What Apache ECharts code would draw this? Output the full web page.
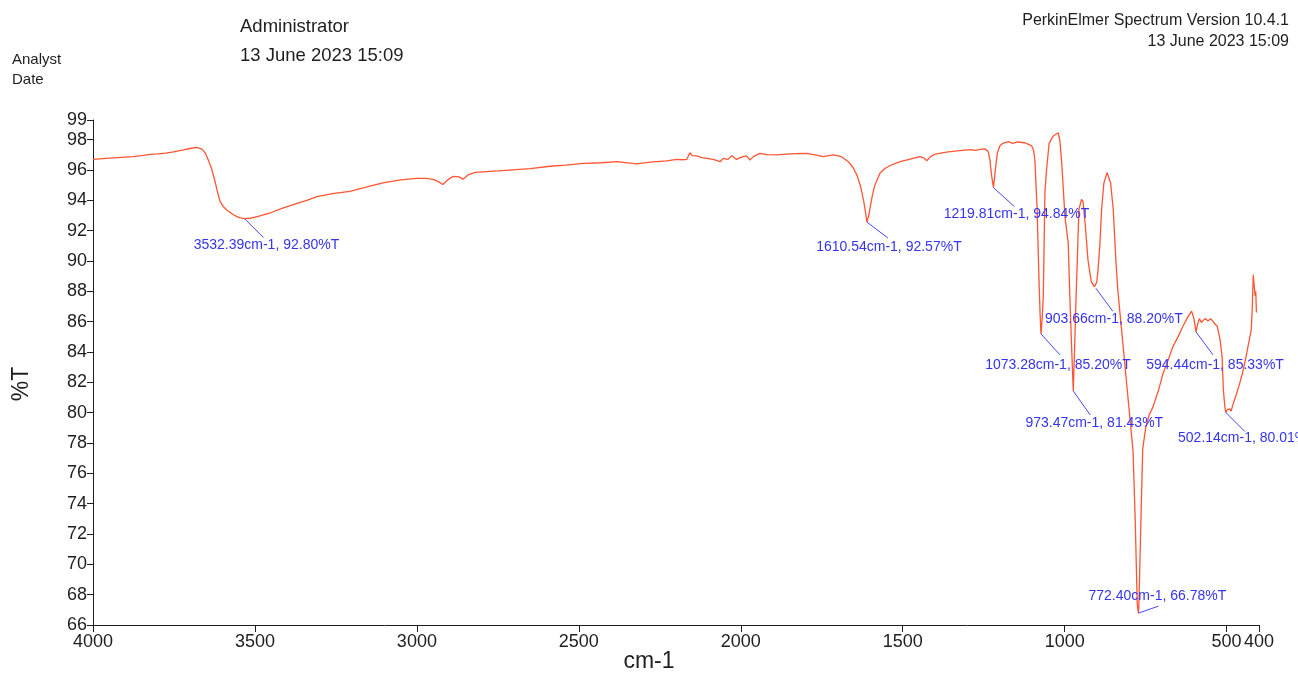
<!DOCTYPE html>
<html>
<head>
<meta charset="utf-8">
<title>FT-IR spectrum</title>
<script src="https://cdn.jsdelivr.net/npm/echarts@6/dist/echarts.min.js"></script>
<style>
  html, body { margin: 0; padding: 0; background: #ffffff; }
  #chart { width: 1298px; height: 673px; }
</style>
</head>
<body>
<div id="chart"></div>
<script>
// Spectrum: wavenumber (cm-1) and transmittance (%T), high to low wavenumber
const wavenumbers = [
  4000, 3950, 3900, 3876, 3850, 3824, 3800, 3775, 3752, 3720, 3700, 3680, 3664, 3654, 3644, 3634,
  3623, 3615, 3608, 3598, 3587, 3570, 3556, 3545, 3532.39, 3515, 3490, 3450, 3412, 3370, 3340, 3309,
  3260, 3207, 3160, 3105, 3050, 3001, 2970, 2950, 2935, 2920, 2905, 2889, 2870, 2858, 2852, 2840,
  2820, 2750, 2650, 2589, 2540, 2486, 2430, 2383, 2321, 2280, 2229, 2198, 2180, 2167, 2157, 2150,
  2136, 2120, 2105, 2085, 2064, 2054, 2040, 2028, 2013, 1998, 1982, 1972, 1960, 1941, 1920, 1889,
  1860, 1830, 1797, 1770, 1745, 1714, 1689, 1668, 1653, 1640, 1630, 1620, 1614, 1610.54, 1605, 1600,
  1593, 1586, 1570, 1555, 1539, 1508, 1480, 1447, 1435, 1425, 1415, 1400, 1360, 1323, 1290, 1277,
  1260, 1246, 1236, 1231, 1226, 1219.81, 1214, 1208, 1200, 1191, 1174, 1161, 1145, 1123, 1110, 1102,
  1096, 1092, 1085, 1079, 1076, 1073.28, 1070, 1066, 1061, 1056, 1048, 1035, 1020, 1015, 1009, 999,
  989, 984, 978, 973.47, 969, 965, 961, 956, 948, 943, 936, 928, 918, 908, 903.66, 901,
  897, 891, 886, 879, 869, 864, 858, 850, 842, 836, 820, 805, 789, 782, 776, 772.40,
  771, 765, 759, 750, 740, 727, 710, 696, 680, 666, 650, 635, 620, 608, 601, 594.44,
  590, 584, 578, 572, 565, 558, 549, 540, 529, 520, 514, 510, 505, 502.14, 498, 494,
  490, 486, 481, 470, 460, 450, 440, 430, 424, 421, 419, 417.5, 415, 412, 410, 408
];
const transmittance = [
  96.70, 96.78, 96.85, 96.88, 96.95, 97.03, 97.06, 97.12, 97.20, 97.33, 97.42, 97.50, 97.38, 97.15, 96.66, 96.10,
  95.23, 94.50, 93.95, 93.60, 93.37, 93.10, 92.93, 92.85, 92.80, 92.82, 92.95, 93.20, 93.50, 93.80, 94.00, 94.25,
  94.45, 94.60, 94.85, 95.15, 95.35, 95.45, 95.45, 95.38, 95.25, 95.05, 95.35, 95.58, 95.55, 95.40, 95.30, 95.70,
  95.85, 95.95, 96.10, 96.25, 96.32, 96.44, 96.48, 96.55, 96.40, 96.52, 96.60, 96.70, 96.68, 96.70, 97.14, 96.95,
  96.93, 96.82, 96.77, 96.70, 96.55, 96.77, 96.70, 96.95, 96.70, 96.85, 96.93, 96.66, 96.90, 97.10, 97.02, 97.00,
  97.05, 97.08, 97.10, 97.00, 96.88, 97.00, 96.88, 96.55, 96.15, 95.60, 94.90, 93.90, 93.10, 92.57, 93.00, 93.60,
  94.40, 95.00, 95.80, 96.10, 96.30, 96.55, 96.70, 96.88, 96.80, 96.62, 96.88, 97.05, 97.20, 97.28, 97.35, 97.30,
  97.36, 97.40, 97.20, 96.70, 95.70, 94.84, 96.00, 97.10, 97.60, 97.76, 97.87, 97.76, 97.85, 97.80, 97.68, 97.60,
  97.30, 96.66, 93.40, 88.55, 86.60, 85.20, 86.00, 87.65, 94.50, 96.00, 97.76, 98.25, 98.46, 97.98, 96.44, 92.90,
  91.17, 87.65, 84.00, 81.43, 84.50, 87.50, 90.07, 93.40, 94.07, 93.90, 92.26, 90.07, 88.64, 88.30, 88.20, 88.60,
  89.40, 91.17, 93.40, 95.13, 95.83, 95.70, 95.13, 93.40, 90.07, 88.10, 84.50, 81.10, 77.50, 72.80, 67.40, 66.78,
  67.20, 72.50, 77.60, 79.00, 79.80, 80.40, 81.50, 82.60, 83.50, 84.35, 85.00, 85.70, 86.30, 86.70, 86.20, 85.33,
  85.80, 86.20, 85.95, 86.10, 86.20, 86.05, 86.20, 85.95, 85.70, 84.80, 83.70, 81.50, 80.30, 80.01, 80.20, 80.10,
  80.25, 80.10, 80.50, 81.20, 81.90, 82.70, 83.70, 84.80, 85.45, 86.80, 88.20, 89.10, 88.40, 87.70, 88.00, 86.60
];

// Peak-picked bands
const peakWavenumbers = [3532.39, 1610.54, 1219.81, 1073.28, 973.47, 903.66, 772.40, 594.44, 502.14];
const peakTransmittance = [92.80, 92.57, 94.84, 85.20, 81.43, 88.20, 66.78, 85.33, 80.01];

// Axis ticks
const xTickValues = [4000, 3500, 3000, 2500, 2000, 1500, 1000, 500, 400];
const yTickValues = [66, 68, 70, 72, 74, 76, 78, 80, 82, 84, 86, 88, 90, 92, 94, 96, 98, 99.3];

// Header text
const analystName = 'Administrator';
const acquiredDate = '13 June 2023 15:09';
const softwareName = 'PerkinElmer Spectrum Version 10.4.1';
const printedDate = '13 June 2023 15:09';

// Leader line end and label centre, in pixels from each peak: [lineDx, lineDy, textDx, textDy]
const leaderLayout = [
  [19, 19, 22, 27],
  [21, 16, 22, 25],
  [21, 19, 23, 27],
  [19, 21, 17, 31],
  [17, 24, 21, 32],
  [17, 23, 18, 31],
  [20, -7, 19, -17],
  [17, 23, 19, 33],
  [19, 19, 21, 26]
];

const FONT = '"Liberation Sans", Arial, Helvetica, sans-serif';
const INK = '#1e1e1e';
const TRACE = '#ff5533';
const MARK = '#3434f0';

const spectrum = wavenumbers.map((w, i) => [w, transmittance[i]]);
const peaks = peakWavenumbers.map((w, i) => [w, peakTransmittance[i]]);

const chart = echarts.init(document.getElementById('chart'), null, { renderer: 'canvas' });

chart.setOption({
  animation: false,
  backgroundColor: '#ffffff',
  grid: { left: 93, right: 39, top: 120, bottom: 48, containLabel: false },
  xAxis: {
    type: 'value',
    inverse: true,
    min: 400,
    max: 4000,
    axisLine: { show: true, onZero: false, lineStyle: { color: INK, width: 1 } },
    axisTick: { show: true, length: 7, customValues: xTickValues, lineStyle: { color: INK, width: 1 } },
    axisLabel: {
      customValues: xTickValues,
      formatter: v => String(Math.round(v)),
      color: INK, fontFamily: FONT, fontSize: 18, margin: 8,
      hideOverlap: false, showMinLabel: true, showMaxLabel: true
    },
    splitLine: { show: false }
  },
  yAxis: {
    type: 'value',
    min: 66,
    max: 99.3,
    axisLine: { show: true, onZero: false, lineStyle: { color: INK, width: 1 } },
    axisTick: { show: true, length: 6, customValues: yTickValues, lineStyle: { color: INK, width: 1 } },
    axisLabel: {
      customValues: yTickValues,
      formatter: v => String(Math.round(v)),
      color: INK, fontFamily: FONT, fontSize: 18, margin: 6,
      hideOverlap: false, showMinLabel: true, showMaxLabel: true
    },
    splitLine: { show: false }
  },
  series: [
    {
      name: 'Spectrum',
      type: 'line',
      data: spectrum,
      showSymbol: false,
      symbol: 'none',
      smooth: false,
      clip: true,
      lineStyle: { color: TRACE, width: 1.3 },
      emphasis: { disabled: true },
      z: 2
    },
    {
      name: 'Peaks',
      type: 'custom',
      data: peaks,
      encode: { x: 0, y: 1 },
      silent: true,
      z: 3,
      renderItem: (params, api) => {
        const i = params.dataIndex;
        const w = api.value(0);
        const t = api.value(1);
        const p = api.coord([w, t]);
        const L = leaderLayout[i];
        return {
          type: 'group',
          children: [
            {
              type: 'line',
              shape: { x1: p[0], y1: p[1], x2: p[0] + L[0], y2: p[1] + L[1] },
              style: { stroke: '#4848f2', lineWidth: 1 }
            },
            {
              type: 'text',
              x: p[0] + L[2],
              y: p[1] + L[3],
              style: {
                text: w.toFixed(2) + 'cm-1, ' + t.toFixed(2) + '%T',
                fill: MARK,
                font: '14px ' + FONT,
                align: 'center',
                verticalAlign: 'middle'
              }
            }
          ]
        };
      }
    }
  ],
  graphic: [
    { type: 'text', x: 240, y: 27, style: { text: analystName, font: '18.5px ' + FONT, fill: INK, align: 'left', verticalAlign: 'middle' } },
    { type: 'text', x: 240, y: 56, style: { text: acquiredDate, font: '18.5px ' + FONT, fill: INK, align: 'left', verticalAlign: 'middle' } },
    { type: 'text', x: 12, y: 60, style: { text: 'Analyst', font: '15px ' + FONT, fill: INK, align: 'left', verticalAlign: 'middle' } },
    { type: 'text', x: 12, y: 80, style: { text: 'Date', font: '15px ' + FONT, fill: INK, align: 'left', verticalAlign: 'middle' } },
    { type: 'text', x: 1289, y: 21, style: { text: softwareName, font: '16px ' + FONT, fill: INK, align: 'right', verticalAlign: 'middle' } },
    { type: 'text', x: 1289, y: 42, style: { text: printedDate, font: '16px ' + FONT, fill: INK, align: 'right', verticalAlign: 'middle' } },
    { type: 'text', x: 22, y: 384, rotation: Math.PI / 2, style: { text: '%T', font: '23px ' + FONT, fill: INK, align: 'center', verticalAlign: 'middle' } },
    { type: 'text', x: 649, y: 662, style: { text: 'cm-1', font: '23px ' + FONT, fill: INK, align: 'center', verticalAlign: 'middle' } }
  ]
});
</script>
</body>
</html>
